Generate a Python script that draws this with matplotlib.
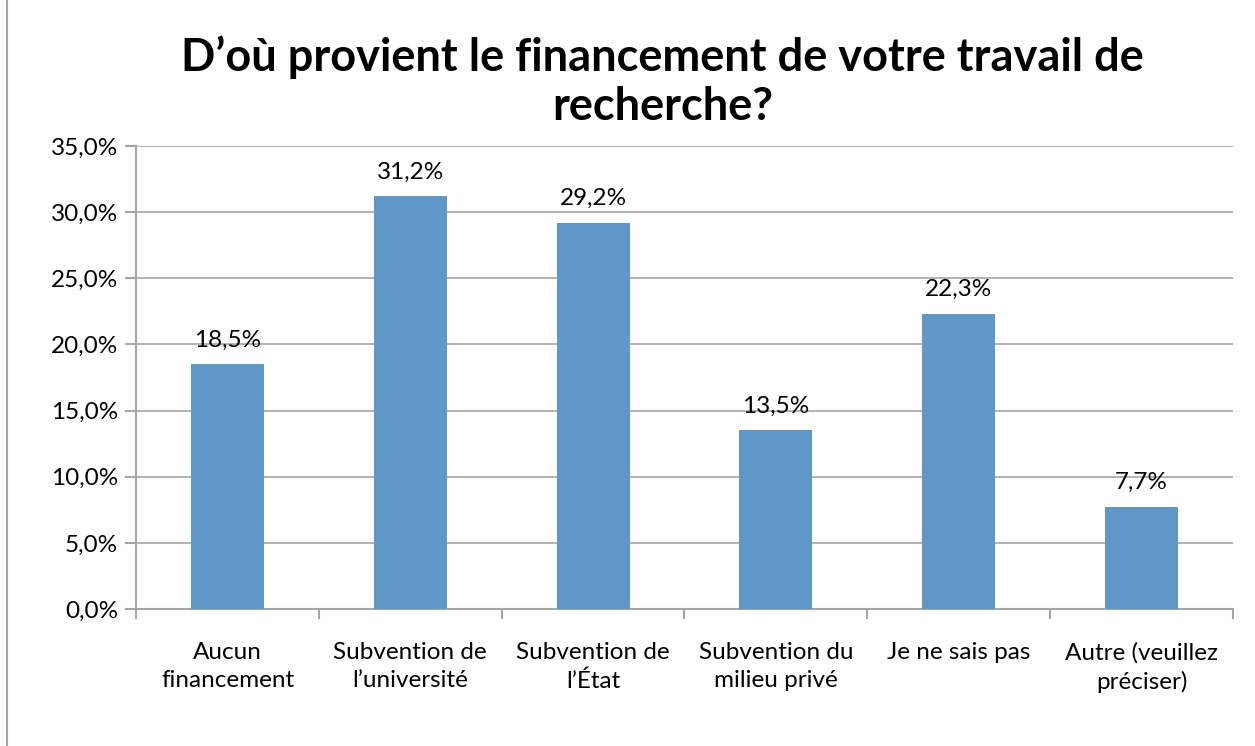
import matplotlib
matplotlib.use("Agg")
import matplotlib.pyplot as plt
from matplotlib.ticker import FuncFormatter, FixedLocator
from matplotlib.lines import Line2D

categories = ["Aucun\nfinancement", "Subvention de\nl\u2019universit\u00e9", "Subvention de\nl\u2019\u00c9tat",
              "Subvention du\nmilieu priv\u00e9", "Je ne sais pas", "Autre (veuillez\npr\u00e9ciser)"]
values = [18.5, 31.2, 29.2, 13.5, 22.3, 7.7]
title = "D\u2019o\u00f9 provient le financement de votre travail de\nrecherche?"

plt.rcParams['font.family'] = ['Lato', 'DejaVu Sans']

fig = plt.figure(figsize=(12.55, 7.46), dpi=100)
ax = fig.add_axes([0.1084, 0.1836, 0.874, 0.6207])

x = list(range(len(categories)))
bars = ax.bar(x, values, width=0.4, color="#6097c9", zorder=3)
ax.set_xlim(-0.5, len(categories) - 0.5)
ax.set_ylim(0, 35)
ax.set_yticks([0, 5, 10, 15, 20, 25, 30, 35])
ax.yaxis.set_major_formatter(FuncFormatter(lambda v, p: f"{v:.1f}%".replace(".", ",")))
ax.grid(axis="y", color="#a6a6a6", linewidth=1.2, zorder=0)
ax.set_xticks(x)
ax.set_xticklabels(categories, fontsize=17.5, linespacing=1.4)
ax.xaxis.set_minor_locator(FixedLocator([i - 0.5 for i in range(len(categories) + 1)]))
ax.tick_params(axis="x", which="major", length=0, pad=24)
ax.tick_params(axis="x", which="minor", length=7, color="#a6a6a6", width=1.5)
ax.tick_params(axis="y", length=8, color="#a6a6a6", width=1.5, labelsize=17.5, pad=5)
for s in ["top", "right"]:
    ax.spines[s].set_visible(False)
for s in ["left", "bottom"]:
    ax.spines[s].set_color("#a6a6a6")
    ax.spines[s].set_linewidth(1.5)

for b, v in zip(bars, values):
    ax.annotate(f"{v:.1f}%".replace(".", ","), (b.get_x() + b.get_width() / 2, v),
                xytext=(0, 10), textcoords="offset points", ha="center", va="bottom", fontsize=17.5)

fig.text(0.528, 0.953, title, ha="center", va="top", fontsize=32.5, fontweight="bold", linespacing=1.22)

fig.add_artist(Line2D([7 / 1255, 7 / 1255], [0, 1], color="#a6a6a6", linewidth=1.5, transform=fig.transFigure))

fig.savefig("out.png", dpi=100, facecolor="white")
